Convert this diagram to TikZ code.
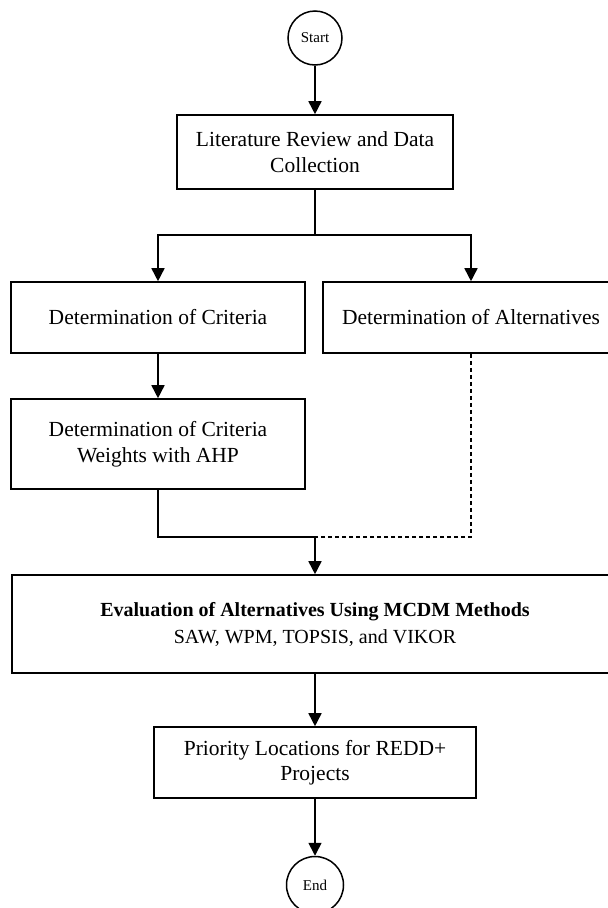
\documentclass[tikz,border=0pt]{standalone}
\usepackage{fontspec}
\setmainfont{Liberation Serif}
\usetikzlibrary{arrows.meta}
\begin{document}
\begin{tikzpicture}[x=1pt,y=-1pt,
  box/.style={draw,line width=1.6pt,rectangle,align=center,inner sep=0pt,font=\fontsize{21.5}{25.5}\selectfont},
  term/.style={draw,line width=1.5pt,circle,minimum size=54pt,inner sep=0pt,font=\fontsize{15}{17}\selectfont},
  flow/.style={line width=1.6pt,-{Triangle[width=13pt,length=13pt]}},
  link/.style={line width=1.6pt},
  dashlink/.style={line width=1.3pt,dash pattern=on 4pt off 3pt}]
\useasboundingbox (0,0) rectangle (608,908);
\clip (0,0) rectangle (608,908);
\fill[white] (0,0) rectangle (608,908);
\node[term] (start) at (315,38) {Start};
\node[box,minimum width=276pt,minimum height=74pt] (lit) at (315,152) {Literature Review and Data\\Collection};
\node[box,minimum width=294pt,minimum height=71pt] (crit) at (158,317.5) {Determination of Criteria};
\node[box,minimum width=296pt,minimum height=71pt] (alt) at (471,317.5) {Determination of Alternatives};
\node[box,minimum width=294pt,minimum height=90pt] (wts) at (158,444) {Determination of Criteria\\Weights with AHP};
\node[box,minimum width=606pt,minimum height=98pt,font=\fontsize{20}{27}\selectfont] (eval) at (315,624) {\textbf{Evaluation of Alternatives Using MCDM Methods}\\SAW, WPM, TOPSIS, and VIKOR};
\node[box,minimum width=322pt,minimum height=71pt] (prio) at (315,762.5) {Priority Locations for REDD+\\Projects};
\node[term,minimum size=57pt] (end) at (315,885) {End};
\coordinate (split) at (315,235);
\coordinate (merge) at (315,537);
\draw[flow] (start) -- (lit);
\draw[link] (lit.south) -- (split);
\draw[flow] (split) -| (crit.north);
\draw[flow] (split) -| (alt.north);
\draw[flow] (crit) -- (wts);
\draw[link] (wts.south) |- (merge);
\draw[dashlink] (alt.south) |- (merge);
\draw[flow] (merge) -- (eval.north);
\draw[flow] (eval) -- (prio);
\draw[flow] (prio) -- (end);
\end{tikzpicture}
\end{document}
